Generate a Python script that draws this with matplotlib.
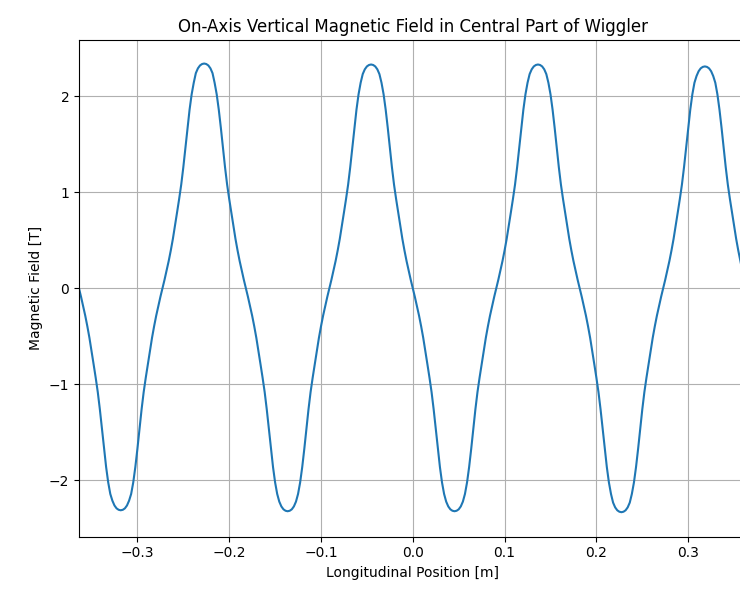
import numpy as np
import matplotlib
matplotlib.use("Agg")
import matplotlib.pyplot as plt

# Sampling grid: 321 samples from -0.3636 m to 0.3636 m (two wiggler periods each side)
z_start, z_stop, n_samples = -0.3636, 0.3636, 321
position_m = np.linspace(z_start, z_stop, n_samples)

# On-axis vertical field [T] (two rows per half period)
field_T = [
    0.00, -0.09, -0.185, -0.285, -0.395, -0.515, -0.65, -0.79, -0.93, -1.08,
    -1.26, -1.46, -1.67, -1.86, -2.02, -2.14, -2.21, -2.26, -2.29, -2.305,
    -2.31, -2.305, -2.29, -2.26, -2.21, -2.14, -2.02, -1.86, -1.67, -1.46,
    -1.26, -1.08, -0.93, -0.79, -0.65, -0.515, -0.395, -0.285, -0.185, -0.09,

    0.00, 0.09, 0.185, 0.285, 0.395, 0.515, 0.65, 0.79, 0.93, 1.08,
    1.26, 1.46, 1.67, 1.86, 2.02, 2.14, 2.24, 2.29, 2.32, 2.335,
    2.34, 2.335, 2.32, 2.29, 2.24, 2.14, 2.02, 1.86, 1.67, 1.46,
    1.26, 1.08, 0.93, 0.79, 0.65, 0.515, 0.395, 0.285, 0.185, 0.09,

    0.00, -0.09, -0.185, -0.285, -0.395, -0.515, -0.65, -0.79, -0.93, -1.08,
    -1.26, -1.46, -1.67, -1.86, -2.02, -2.14, -2.22, -2.27, -2.30, -2.315,
    -2.32, -2.315, -2.30, -2.27, -2.22, -2.14, -2.02, -1.86, -1.67, -1.46,
    -1.26, -1.08, -0.93, -0.79, -0.65, -0.515, -0.395, -0.285, -0.185, -0.09,

    0.00, 0.09, 0.185, 0.285, 0.395, 0.515, 0.65, 0.79, 0.93, 1.08,
    1.26, 1.46, 1.67, 1.86, 2.02, 2.14, 2.23, 2.28, 2.31, 2.325,
    2.33, 2.325, 2.31, 2.28, 2.23, 2.14, 2.02, 1.86, 1.67, 1.46,
    1.26, 1.08, 0.93, 0.79, 0.65, 0.515, 0.395, 0.285, 0.185, 0.09,

    0.00, -0.09, -0.185, -0.285, -0.395, -0.515, -0.65, -0.79, -0.93, -1.08,
    -1.26, -1.46, -1.67, -1.86, -2.02, -2.14, -2.22, -2.27, -2.30, -2.315,
    -2.32, -2.315, -2.30, -2.27, -2.22, -2.14, -2.02, -1.86, -1.67, -1.46,
    -1.26, -1.08, -0.93, -0.79, -0.65, -0.515, -0.395, -0.285, -0.185, -0.09,

    0.00, 0.09, 0.185, 0.285, 0.395, 0.515, 0.65, 0.79, 0.93, 1.08,
    1.26, 1.46, 1.67, 1.86, 2.02, 2.14, 2.23, 2.28, 2.31, 2.325,
    2.33, 2.325, 2.31, 2.28, 2.23, 2.14, 2.02, 1.86, 1.67, 1.46,
    1.26, 1.08, 0.93, 0.79, 0.65, 0.515, 0.395, 0.285, 0.185, 0.09,

    0.00, -0.09, -0.185, -0.285, -0.395, -0.515, -0.65, -0.79, -0.93, -1.08,
    -1.26, -1.46, -1.67, -1.86, -2.02, -2.14, -2.23, -2.28, -2.31, -2.325,
    -2.33, -2.325, -2.31, -2.28, -2.23, -2.14, -2.02, -1.86, -1.67, -1.46,
    -1.26, -1.08, -0.93, -0.79, -0.65, -0.515, -0.395, -0.285, -0.185, -0.09,

    0.00, 0.09, 0.185, 0.285, 0.395, 0.515, 0.65, 0.79, 0.93, 1.08,
    1.26, 1.46, 1.67, 1.86, 2.02, 2.14, 2.21, 2.26, 2.29, 2.305,
    2.31, 2.305, 2.29, 2.26, 2.21, 2.14, 2.02, 1.86, 1.67, 1.46,
    1.26, 1.08, 0.93, 0.79, 0.65, 0.515, 0.395, 0.285, 0.185, 0.09,

    0.00,
]

x_ticks = [-0.3, -0.2, -0.1, 0.0, 0.1, 0.2, 0.3]
y_ticks = [-2, -1, 0, 1, 2]

fig = plt.figure(figsize=(7.4, 5.94), dpi=100)
ax = fig.add_axes([79 / 740, 57.3 / 594, 667.6 / 740, 496.7 / 594])
ax.plot(position_m, field_T, color="C0", lw=1.5)
ax.set_xlim(z_start, z_stop)
ax.set_ylim(-2.585, 2.585)
ax.set_xticks(x_ticks)
ax.set_yticks(y_ticks)
ax.grid(True)
ax.set_title("On-Axis Vertical Magnetic Field in Central Part of Wiggler")
ax.set_xlabel("Longitudinal Position [m]")
ax.set_ylabel("Magnetic Field [T]")

fig.savefig("out.png", dpi=100)
